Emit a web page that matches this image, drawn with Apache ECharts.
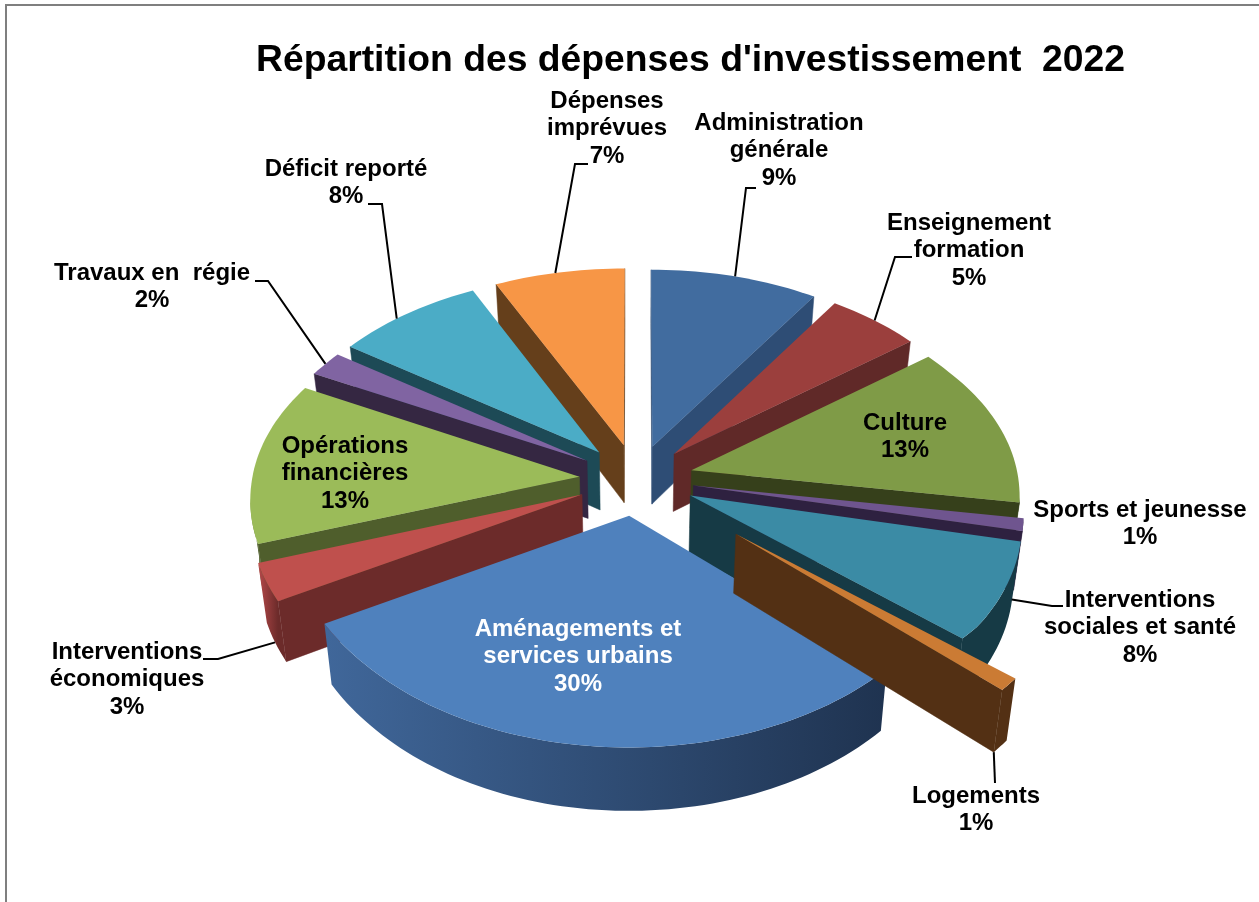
<!DOCTYPE html>
<html>
<head>
<meta charset="utf-8">
<title>Répartition des dépenses d'investissement 2022</title>
<script src="https://cdn.jsdelivr.net/npm/echarts@6/dist/echarts.min.js"></script>
<style>
  html, body { margin: 0; padding: 0; background: #fff; }
  #chart { width: 1259px; height: 902px; }
</style>
</head>
<body>
<div id="chart"></div>
<script>
const titleText = "Répartition des dépenses d'investissement  2022";
const categories = [
  "Administration\ngénérale",
  "Enseignement\nformation",
  "Culture",
  "Sports et jeunesse",
  "Interventions\nsociales et santé",
  "Logements",
  "Aménagements et\nservices urbains",
  "Interventions\néconomiques",
  "Opérations\nfinancières",
  "Travaux en  régie",
  "Déficit reporté",
  "Dépenses\nimprévues"
];
const values = [9, 5, 13, 1, 8, 1, 30, 3, 13, 2, 8, 7];

// how far each slice is pulled out, as a share of the radius
const explode = [0.175, 0.175, 0.175, 0.175, 0.18, 0.395, 0.176, 0.18, 0.175, 0.18, 0.18, 0.18];
const topColors = ["#416c9f", "#9b3f3d", "#7f9b47", "#6f558f", "#3b8ba5", "#cb7b34", "#4f81bd", "#bf504d", "#9bbb59", "#8064a2", "#4bacc6", "#f79646"];
const faceColors = ["#2e4d75", "#602928", "#36401b", "#2e2140", "#163a45", "#533014", "#1f3350", "#6c2b2a", "#4f5e2c", "#352742", "#1d4a56", "#653f1b"];
const wallStart = ["#2e4d75", "#602928", "#36401b", "#2e2140", "#163a45", "#533014", "#40679a", "#b5494a", "#8ba84f", "#352742", "#1d4a56", "#653f1b"];
const labelCenters = [[779, 123.5], [969, 223.5], [905, 423.5], [1140, 510.5], [1140, 600.5], [976, 796.5], [578, 629.5], [127, 652.5], [345, 446.5], [152, 273.5], [346, 169.5], [607, 101.5]];
const leaderBends = [
  [[756, 188], [746, 188]],
  [[912, 257], [895, 257]],
  null,
  null,
  [[1063, 606], [1052, 606]],
  [[995, 783]],
  null,
  [[203, 659], [218, 659]],
  null,
  [[255, 281], [268, 281]],
  [[368, 204], [382, 204]],
  [[588, 164], [575, 164]]
];
// where a leader meets its slice: share along the rim, share down the wall
const leaderRim = [0.5, 0.5, 0.5, 0.5, 0.1, 1, 0.5, 0.5, 0.5, 0.5, 0.42, 0.47];
const leaderWall = [0, 0, 0, 0, 0.8, 1, 0, 1, 0, 0, 0, 0];

const cx = 636.5, cy = 480, rx = 328, ry = 201;
const perspFront = 0.085, perspBack = 0.08, perspY = 0.1;
const total = values.reduce((a, b) => a + b, 0);

const angles = [];
values.reduce((sum, v) => {
  angles.push([(sum / total) * 2 * Math.PI, ((sum + v) / total) * 2 * Math.PI]);
  return sum + v;
}, 0);

const project = (X, Y) => {
  const px = Y > 0 ? perspFront : perspBack;
  // the sides of the disc sit a little lower than a pure ellipse would put them
  const side = Math.pow(Math.min(Math.abs(X), 1), 3) * (X > 0 ? 7 : 3.5);
  const fade = Math.max(0, Math.min(1, (0.85 - Y) / 0.2));
  return [
    cx + (rx * X) / (1 - px * Y),
    cy + (ry * Y) / (1 - perspY * Y) + side * fade
  ];
};
const drop = (p) => [cx + (p[0] - cx) * 0.977, p[1] + 58 + (p[1] - cy) * 0.02];

const sliceOrigin = (i) => {
  const m = (angles[i][0] + angles[i][1]) / 2;
  return [explode[i] * Math.sin(m), -explode[i] * Math.cos(m)];
};
const rimPoint = (i, a) => {
  const o = sliceOrigin(i);
  return project(o[0] + Math.sin(a), o[1] - Math.cos(a));
};

const renderSlice = (params, api) => {
  const i = api.value(0);
  const [a0, a1] = angles[i];
  const o = sliceOrigin(i);
  const apex = project(o[0], o[1]);
  const rim = [];
  const steps = Math.max(6, Math.round((a1 - a0) * 40));
  for (let k = 0; k <= steps; k++) rim.push(rimPoint(i, a0 + ((a1 - a0) * k) / steps));

  const children = [];
  const quad = (p, q, fill) =>
    children.push({
      type: "polygon",
      shape: { points: [p, q, drop(q), drop(p)] },
      style: { fill: fill, stroke: fill, lineWidth: 0.5 }
    });

  // a side wall can only be seen where the outline runs leftwards on screen
  if (rim[0][0] < apex[0]) quad(apex, rim[0], faceColors[i]);
  if (rim[steps][0] > apex[0]) quad(rim[steps], apex, faceColors[i]);

  const front = [];
  for (let k = 0; k < steps; k++) if (rim[k + 1][0] < rim[k][0]) front.push(rim[k], rim[k + 1]);
  if (front.length) {
    const xs = front.map((p) => p[0]);
    const x0 = Math.min(...xs), x1 = Math.max(...xs);
    children.push({
      type: "polygon",
      shape: { points: front.concat(front.slice().reverse().map(drop)) },
      style: {
        fill: new echarts.graphic.LinearGradient(x1, 0, x0, 0, [
          { offset: 0, color: faceColors[i] },
          { offset: 1, color: wallStart[i] }
        ], true)
      }
    });
  }

  children.push({
    type: "polygon",
    shape: { points: [apex].concat(rim) },
    style: { fill: topColors[i] }
  });
  return { type: "group", children: children };
};

const renderLabel = (params, api) => {
  const i = api.value(0);
  const children = [];
  if (leaderBends[i]) {
    const a = angles[i][0] + (angles[i][1] - angles[i][0]) * leaderRim[i];
    const p = rimPoint(i, a);
    const d = drop(p);
    const w = leaderWall[i];
    const end = [p[0] + (d[0] - p[0]) * w, p[1] + (d[1] - p[1]) * w];
    children.push({
      type: "polyline",
      shape: { points: leaderBends[i].concat([end]) },
      style: { fill: null, stroke: "#000", lineWidth: 2 }
    });
  }
  children.push({
    type: "text",
    x: labelCenters[i][0],
    y: labelCenters[i][1] - 14,
    style: {
      text: categories[i] + "\n" + values[i] + "%",
      fill: i === 6 ? "#fff" : "#000",
      font: 'bold 24px "Liberation Sans"',
      lineHeight: 27.5,
      align: "center",
      verticalAlign: "top"
    }
  });
  return { type: "group", children: children };
};

// slices further back are painted first
const drawOrder = values
  .map((v, i) => i)
  .sort((p, q) => sliceOrigin(p)[1] - sliceOrigin(q)[1]);

const chart = echarts.init(document.getElementById("chart"), null, { renderer: "canvas" });
chart.setOption({
  animation: false,
  backgroundColor: "#fff",
  title: {
    text: titleText,
    left: 685.5,
    top: 37,
    textAlign: "center",
    textStyle: { color: "#000", fontFamily: "Liberation Sans", fontWeight: "bold", fontSize: 37.3 }
  },
  graphic: [
    {
      type: "polyline",
      shape: { points: [[6, 902], [6, 5], [1259, 5]] },
      style: { fill: null, stroke: "#7f7f7f", lineWidth: 2 }
    }
  ],
  series: [
    {
      type: "custom",
      coordinateSystem: "none",
      silent: true,
      renderItem: renderSlice,
      data: drawOrder.map((i) => [i])
    },
    {
      type: "custom",
      coordinateSystem: "none",
      silent: true,
      renderItem: renderLabel,
      data: values.map((v, i) => [i])
    }
  ]
});
</script>
</body>
</html>
